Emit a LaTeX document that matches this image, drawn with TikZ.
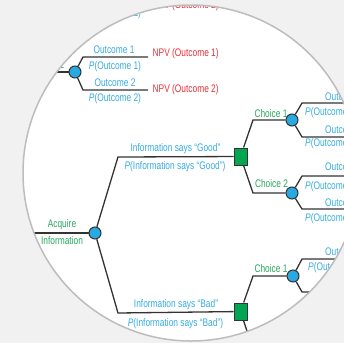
\documentclass[tikz,border=0pt]{standalone}
\usepackage{fontspec}
\setmainfont[FakeStretch=0.76]{Liberation Sans}
\definecolor{chanceblue}{HTML}{29A9E1}
\definecolor{decgreen}{HTML}{00A651}
\definecolor{lblblue}{HTML}{36ACE2}
\definecolor{lblgreen}{HTML}{27A85C}
\definecolor{npvred}{HTML}{EC2E3A}
\definecolor{edge}{HTML}{333333}
\definecolor{lensrim}{HTML}{BDBDBD}
\definecolor{backgray}{HTML}{F1F1F1}
\begin{document}
\begin{tikzpicture}[x=1pt,y=-1pt]
        \tikzstyle{chance}=[draw=edge,line width=1pt,fill=chanceblue,shape=circle,minimum size=12pt,inner sep=0pt];
        \tikzstyle{decision}=[draw=edge,line width=1pt,fill=decgreen,shape=rectangle,minimum width=13pt,minimum height=17pt,inner sep=0pt];
        \tikzstyle{branch}=[draw=edge,line width=1.3pt];
        \tikzstyle{lbl}=[inner sep=0pt,font=\fontsize{11}{13}\selectfont];
        \tikzstyle{prob}=[lbl,text=lblblue];
        \tikzstyle{choice}=[lbl,text=lblgreen];
        \tikzstyle{npv}=[lbl,text=npvred,anchor=west];
        %lens: gray page, white disc, everything clipped to it
        \useasboundingbox (0,0) rectangle (344,343);
        \fill[backgray] (0,0) rectangle (344,343);
        \fill[white] (191,173) circle[radius=168pt];
        \begin{scope}
        \clip (191,173) circle[radius=168pt];
        %upper tree, cut by the lens
        \node[prob] (tp2) at (115,14) {\textit{P}(Outcome 2)};
        \node[npv] (tnpv2) at (152.5,5.5) {NPV (Outcome 2)};
        \node[choice,anchor=east] (tc2) at (64.5,65) {Choice 2};
        \coordinate (a0) at (30,72);
        \node[chance] (a) at (75,72) {};
        \coordinate (a1) at (83,57);
        \coordinate (a2) at (83,90);
        \coordinate (a1e) at (148,57);
        \coordinate (a2e) at (148,90);
        \draw[branch] (a0)--(a);
        \draw[branch] (a)--(a1)--(a1e);
        \draw[branch] (a)--(a2)--(a2e);
        \node[prob] (ao1) at (114,49.5) {Outcome 1};
        \node[prob] (ap1) at (115,67) {\textit{P}(Outcome 1)};
        \node[prob] (ao2) at (115,83) {Outcome 2};
        \node[prob] (ap2) at (115,98.5) {\textit{P}(Outcome 2)};
        \node[npv] (anpv1) at (152.5,54) {NPV (Outcome 1)};
        \node[npv] (anpv2) at (152.5,89.5) {NPV (Outcome 2)};
        %acquire information
        \coordinate (s) at (20,233);
        \node[chance] (info) at (95,233) {};
        \draw[branch] (s)--(info);
        \node[choice] (acq1) at (62,225) {Acquire};
        \node[choice] (acq2) at (62,241) {Information};
        \coordinate (g0) at (118,157);
        \coordinate (b0) at (118,313);
        \node[decision] (good) at (240.5,156.5) {};
        \node[decision] (bad) at (240.5,311.5) {};
        \draw[branch] (info)--(g0)--(good);
        \draw[branch] (info)--(b0)--(bad);
        \node[prob] (gl) at (175.5,149) {Information says “Good”};
        \node[prob] (gp) at (175,166.5) {\textit{P}(Information says “Good”)};
        \node[prob] (bl) at (176,305) {Information says “Bad”};
        \node[prob] (bp) at (175.5,324) {\textit{P}(Information says “Bad”)};
        %good -> choices
        \coordinate (gc1) at (253,120);
        \coordinate (gc2) at (253,193);
        \node[chance] (g1) at (292,120) {};
        \node[chance] (g2) at (292,193) {};
        \draw[branch] (good)--(gc1)--(g1);
        \draw[branch] (good)--(gc2)--(g2);
        \node[choice] (gch1) at (271,113.5) {Choice 1};
        \node[choice] (gch2) at (271.5,184) {Choice 2};
        \coordinate (g1a) at (302,103);
        \coordinate (g1b) at (302,137);
        \coordinate (g2a) at (302,176);
        \coordinate (g2b) at (302,209);
        \coordinate (g1ae) at (350,103);
        \coordinate (g1be) at (350,137);
        \coordinate (g2ae) at (350,176);
        \coordinate (g2be) at (350,209);
        \draw[branch] (g1)--(g1a)--(g1ae);
        \draw[branch] (g1)--(g1b)--(g1be);
        \draw[branch] (g2)--(g2a)--(g2ae);
        \draw[branch] (g2)--(g2b)--(g2be);
        \node[prob,anchor=west] (g1o1) at (325,96.5) {Outcome 1};
        \node[prob,anchor=west] (g1p1) at (305,113) {\textit{P}(Outcome 1)};
        \node[prob,anchor=west] (g1o2) at (325,130) {Outcome 2};
        \node[prob,anchor=west] (g1p2) at (305,144) {\textit{P}(Outcome 2)};
        \node[prob,anchor=west] (g2o1) at (325,167) {Outcome 1};
        \node[prob,anchor=west] (g2p1) at (305,187) {\textit{P}(Outcome 1)};
        \node[prob,anchor=west] (g2o2) at (325,202.5) {Outcome 2};
        \node[prob,anchor=west] (g2p2) at (305,219) {\textit{P}(Outcome 2)};
        %bad -> choices
        \coordinate (bc1) at (253,276);
        \coordinate (bc2) at (253,349);
        \coordinate (bc2e) at (292,349);
        \node[chance] (b1) at (293,276) {};
        \draw[branch] (bad)--(bc1)--(b1);
        \draw[branch] (bad)--(bc2)--(bc2e);
        \node[choice] (bch1) at (271,269) {Choice 1};
        \coordinate (b1a) at (302,259);
        \coordinate (b1b) at (302,292);
        \coordinate (b1ae) at (350,259);
        \coordinate (b1be) at (350,292);
        \draw[branch] (b1)--(b1a)--(b1ae);
        \draw[branch] (b1)--(b1b)--(b1be);
        \node[prob,anchor=west] (b1o1) at (325,252) {Outcome 1};
        \node[prob,anchor=west] (b1p1) at (308,268) {\textit{P}(Outcome 1)};
        \end{scope}
        \draw[lensrim,line width=1.5pt] (191,173) circle[radius=168pt];
\end{tikzpicture}
\end{document}
